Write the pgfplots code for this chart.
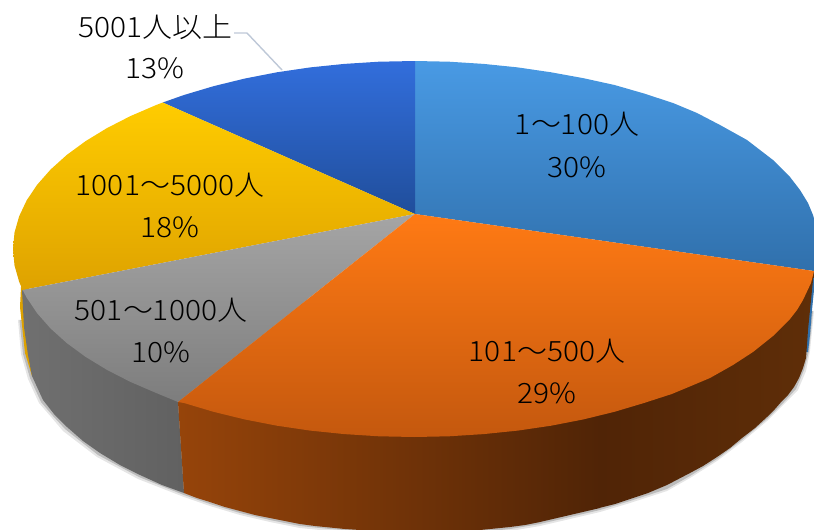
\documentclass[border=0pt]{standalone}
\usepackage{pgfplots}
\pgfplotsset{compat=1.18}
\usepackage{fontspec}
\setmainfont[FakeStretch=1.07]{Noto Sans CJK JP Light}
\definecolor{bluetop}{RGB}{73,154,228}
\definecolor{bluebot}{RGB}{48,112,172}
\definecolor{orgtop}{RGB}{255,122,20}
\definecolor{orgbot}{RGB}{196,88,14}
\definecolor{graytop}{RGB}{165,165,165}
\definecolor{graybot}{RGB}{125,125,125}
\definecolor{yeltop}{RGB}{255,204,0}
\definecolor{yelbot}{RGB}{222,162,0}
\definecolor{dbtop}{RGB}{50,110,220}
\definecolor{dbbot}{RGB}{32,78,155}
\definecolor{leader}{RGB}{190,200,215}
\begin{document}
\begin{tikzpicture}
\begin{axis}[scale only axis,width=814pt,height=530pt,xmin=0,xmax=814,ymin=0,ymax=530,y dir=reverse,hide axis]
\path (axis cs:0,0) rectangle (axis cs:814,530);
% soft shadow, two layers
\addplot[draw=none,fill=black,fill opacity=.10] coordinates {(300,300)(18,320)(21,354)(28,379)(39,403)(52,418)(63,431)(97,457)(138,479)(184,497)(210,506)(240,515)(270,522)(300,528)(330,531)(360,533)(390,535)(420,535)(450,535)(480,534)(510,531)(540,526)(570,519)(600,512)(630,503)(667,491)(690,478)(717,461)(742,442)(767,421)(785,403)(798,390)(806,371)(810,351)(812,331)(814,311)(600,300)};
\addplot[draw=none,fill=black,fill opacity=.18] coordinates {(300,300)(19.5,320)(23,354)(30,378)(41,402)(53,416)(65,429)(98,455)(139,477)(184,495)(210,504)(240,513)(270,520)(300,526)(330,529)(360,531)(390,533)(420,533)(450,533)(480,532)(510,529)(540,524)(570,517)(600,510)(630,501)(667,489)(690,476)(717,459)(742,440)(767,419)(784,402)(796,389)(804,370)(809,351)(811,331)(813,311)(600,300)};
% blue sliver
\addplot[draw=none,fill=bluebot] coordinates {(810,271)(815,271)(814,290)(812,310)(810,335)(808,352)(800,352)};
% yellow sliver
\addplot[draw=none,fill=yelbot] coordinates {(21,287)(20,307)(25,353)(32,376)(40,360)(30,290)};
% gray wall
\addplot[draw=none,left color=graybot!110!white,right color=black!62] coordinates {(22,290)(24,327)(28,355)(32,376)(43,400)(54,414)(67,427)(83,441)(100,453)(120,465)(140,475)(162,485)(184,493)(178,402)(100,350)};
% orange wall
\addplot[draw=none,left color={rgb,255:red,150;green,68;blue,10},right color={rgb,255:red,80;green,36;blue,6}] coordinates {(178,402)(184,493)(197,498)(210,502)(225,507)(240,511)(255,515)(270,518)(285,521)(300,524)(315,526)(330,527.5)(345,529)(360,530)(390,531)(420,531.5)(450,531)(480,530)(495,528.5)(510,527)(525,525)(540,522)(555,518.5)(570,515)(600,508)(600,400)};
\addplot[draw=none,left color={rgb,255:red,80;green,36;blue,6},right color={rgb,255:red,95;green,46;blue,8}] coordinates {(599,400)(599,508)(615,504)(630,499)(648,493)(667,485)(690,473)(703,466)(717,457)(730,448)(742,438)(755,428)(767,417)(775,409)(782,401)(788,395)(794,387)(799,378)(803,368)(806,358)(807,345)(808,330)(810,310)(812,290)(814,271)};
% top: blue
\addplot[draw=none,top color=bluetop,bottom color=bluebot] coordinates {(415,214)(415,61)(449,61.7)(483.6,63.9)(517.8,67.4)(551.1,72.3)(583.5,78.2)(614.5,85)(644,93.5)(673,103)(697,113)(720,125)(747,140)(773,160)(790,177)(800,190)(808,203)(813,215)(815,222)(815,271)(814,271)};
% top: dark blue
\addplot[draw=none,top color=dbtop,bottom color=dbbot] coordinates {(415,214)(162.7,102.5)(184,95)(213.5,86.2)(244.5,78.6)(276.9,72.3)(310.2,67.4)(344.4,63.9)(379,61.7)(415,61)};
% top: yellow
\addplot[draw=none,top color=yeltop,bottom color=yelbot] coordinates {(415,214)(22.6,290)(19.1,281.6)(14.5,265.4)(13,249)(14.5,232.6)(19.1,216.4)(26.7,200.3)(37.2,184.7)(50.6,169.5)(66.7,155)(85.5,141.2)(106.8,128.2)(130.4,116.1)(156.2,105)(162.7,102.5)};
% top: gray
\addplot[draw=none,top color=graytop,bottom color=graybot] coordinates {(415,214)(178,402)(156.2,393)(130.4,381.9)(106.8,369.8)(85.5,356.8)(66.7,343)(50.6,328.5)(37.2,313.3)(26.7,297.7)(22.6,290)};
% top: orange
\addplot[draw=none,top color=orgtop,bottom color=orgbot] coordinates {(415,214)(814,271)(811,283)(803,300)(797,310)(790,319)(782,327)(773,336)(753,352)(733,365)(710,378)(691,386)(671.8,394)(644,403)(614.5,411.8)(583.5,419.4)(551.1,425.7)(517.8,430.6)(483.6,434.1)(449,436.3)(414,437)(379,436.3)(344.4,434.1)(310.2,430.6)(276.9,425.7)(244.5,419.4)(213.5,411.8)(184,403)(178,402)};
% leader
\addplot[draw=leader,line width=1.4pt] coordinates {(234,33)(247,33)(282,70)};
\begin{scope}[every node/.style={font=\fontsize{28}{30}\selectfont,text=black,inner sep=0pt,anchor=center}]
\node at (axis cs:577,124) {1～100人};
\node at (axis cs:577,167) {30\%};
\node at (axis cs:547,351) {101～500人};
\node at (axis cs:547,393) {29\%};
\node at (axis cs:161,310) {501～1000人};
\node at (axis cs:161,352) {10\%};
\node at (axis cs:170,185) {1001～5000人};
\node at (axis cs:170,227) {18\%};
\node at (axis cs:155,27) {5001人以上};
\node at (axis cs:155,68) {13\%};
\end{scope}
\end{axis}
\end{tikzpicture}
\end{document}
